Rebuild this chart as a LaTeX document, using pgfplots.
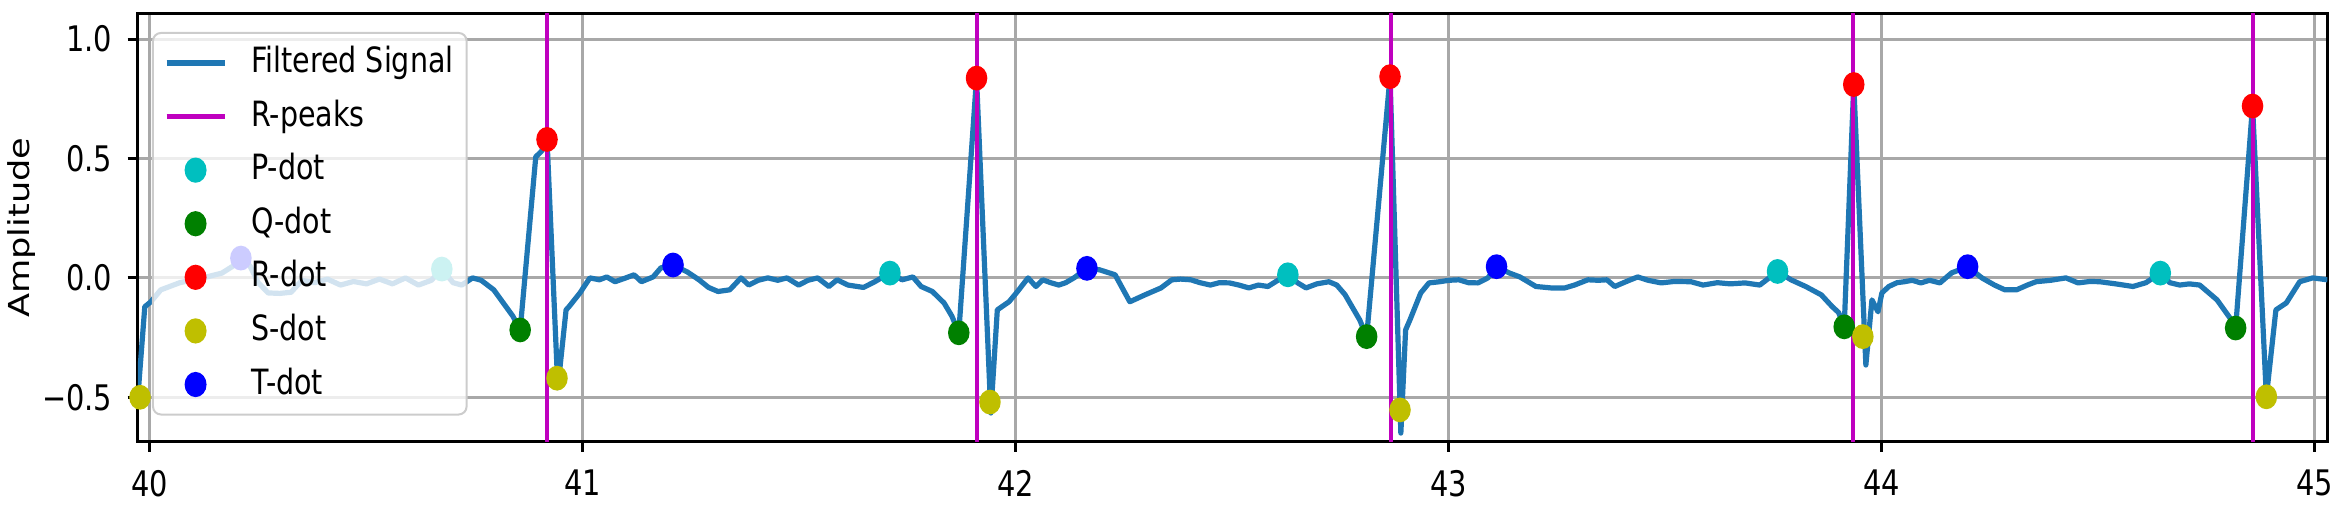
\documentclass[border=0pt]{standalone}
\usepackage{fontspec}
\setmainfont{DejaVu Sans}[FakeStretch=0.82]
\newfontfamily\plainfont{DejaVu Sans}
\usepackage{graphicx}
\usepackage{pgfplots}
\pgfplotsset{compat=1.18}
\definecolor{sig}{HTML}{1F77B4}
\definecolor{mpm}{HTML}{BF00BF}
\definecolor{mpc}{HTML}{00BFBF}
\definecolor{mpg}{HTML}{008000}
\definecolor{mpr}{HTML}{FF0000}
\definecolor{mpy}{HTML}{BFBF00}
\definecolor{mpb}{HTML}{0000FF}
\definecolor{gridc}{HTML}{A8A8A8}

\pgfplotstableread{
x y
39.972 -0.50
39.988 -0.121
40.002 -0.10
40.025 -0.05
40.069 -0.02
40.122 0.0
40.166 0.02
40.201 0.06
40.210 0.083
40.231 0.05
40.250 -0.02
40.273 -0.063
40.300 -0.065
40.326 -0.06
40.351 -0.01
40.380 -0.02
40.410 -0.005
40.440 -0.03
40.470 -0.015
40.500 -0.025
40.530 -0.005
40.560 -0.025
40.590 0.0
40.620 -0.03
40.650 -0.01
40.674 0.037
40.700 -0.02
40.720 -0.03
40.745 0.0
40.765 -0.01
40.794 -0.05
40.838 -0.16
40.855 -0.218
40.891 0.507
40.904 0.53
40.917 0.58
40.942 -0.46
40.961 -0.134
40.968 -0.12
40.993 -0.063
41.016 0.0
41.038 -0.008
41.055 0.004
41.074 -0.016
41.099 0.0
41.118 0.013
41.135 -0.016
41.162 0.004
41.180 0.042
41.208 0.054
41.241 0.025
41.268 -0.008
41.290 -0.04
41.312 -0.057
41.339 -0.05
41.365 0.0
41.383 -0.03
41.405 -0.01
41.427 0.0
41.450 -0.01
41.471 0.0
41.498 -0.03
41.520 -0.01
41.542 0.0
41.568 -0.036
41.587 -0.008
41.612 -0.03
41.648 -0.04
41.674 -0.016
41.709 0.02
41.737 -0.008
41.762 0.004
41.781 -0.036
41.807 -0.057
41.834 -0.105
41.852 -0.16
41.868 -0.23
41.909 0.837
41.942 -0.566
41.957 -0.134
41.968 -0.12
41.984 -0.10
42.001 -0.063
42.028 0.0
42.046 -0.036
42.062 -0.008
42.080 -0.02
42.099 -0.03
42.115 -0.02
42.134 0.0
42.164 0.04
42.193 0.034
42.229 0.013
42.263 -0.10
42.298 -0.071
42.335 -0.042
42.360 -0.008
42.380 -0.005
42.404 -0.008
42.425 -0.02
42.449 -0.03
42.470 -0.02
42.493 -0.021
42.515 -0.03
42.538 -0.042
42.560 -0.03
42.582 -0.036
42.605 -0.01
42.628 0.013
42.650 -0.02
42.670 -0.042
42.695 -0.025
42.723 -0.016
42.741 -0.03
42.760 -0.07
42.776 -0.12
42.794 -0.176
42.810 -0.246
42.864 0.843
42.889 -0.65
42.900 -0.218
42.910 -0.176
42.935 -0.063
42.954 -0.021
42.979 -0.016
43.000 -0.01
43.023 -0.008
43.045 -0.02
43.067 -0.021
43.090 0.0
43.110 0.047
43.139 0.021
43.164 0.004
43.201 -0.036
43.236 -0.042
43.268 -0.042
43.290 -0.03
43.321 -0.008
43.345 -0.01
43.365 -0.008
43.383 -0.036
43.410 -0.015
43.436 0.004
43.460 -0.01
43.490 -0.021
43.520 -0.015
43.559 -0.016
43.587 -0.03
43.620 -0.02
43.650 -0.025
43.684 -0.021
43.718 -0.03
43.759 0.027
43.790 -0.008
43.824 -0.036
43.860 -0.071
43.885 -0.12
43.900 -0.145
43.913 -0.205
43.935 0.81
43.963 -0.365
43.977 -0.092
43.991 -0.142
44.000 -0.063
44.016 -0.036
44.035 -0.02
44.052 -0.016
44.070 -0.01
44.090 -0.021
44.110 -0.01
44.134 -0.021
44.161 0.021
44.198 0.047
44.231 0.0
44.260 -0.03
44.284 -0.05
44.311 -0.05
44.336 -0.03
44.356 -0.016
44.390 -0.01
44.425 0.0
44.453 -0.021
44.480 -0.015
44.503 -0.016
44.540 -0.025
44.580 -0.036
44.610 -0.02
44.643 0.02
44.665 -0.02
44.688 -0.03
44.710 -0.025
44.734 -0.03
44.774 -0.092
44.804 -0.168
44.817 -0.21
44.856 0.72
44.888 -0.498
44.910 -0.134
44.934 -0.105
44.965 -0.016
44.995 0.0
45.029 -0.008
}\signal

\pgfplotstableread{
x y
40.674 0.037
41.709 0.02
42.628 0.013
43.759 0.027
44.643 0.02
}\Pdots
\pgfplotstableread{
x y
40.855 -0.218
41.868 -0.23
42.810 -0.246
43.913 -0.205
44.817 -0.21
}\Qdots
\pgfplotstableread{
x y
40.917 0.58
41.909 0.837
42.864 0.843
43.935 0.81
44.856 0.72
}\Rdots
\pgfplotstableread{
x y
39.977 -0.50
40.940 -0.42
41.940 -0.52
42.887 -0.553
43.956 -0.246
44.888 -0.498
}\Sdots
\pgfplotstableread{
x y
40.210 0.083
41.208 0.054
42.164 0.04
43.110 0.047
44.198 0.047
}\Tdots

\begin{document}
\begin{tikzpicture}
\begin{axis}[
  scale only axis, width=547.4pt, height=106.9pt,
  xmin=39.9723, xmax=45.029, ymin=-0.6855, ymax=1.1055,
  axis line style={line width=0.75pt},
  xtick={40,41,42,43,44,45}, xticklabels={40,41,42,43,44,45},
  ytick={-0.5,0,0.5,1}, yticklabels={−0.5,0.0,0.5,1.0},
  tick align=outside, xtick pos=bottom, ytick pos=left,
  major tick length=2.6pt,
  every tick/.style={black, line width=0.75pt},
  grid=major, major grid style={gridc, line width=0.75pt},
  ticklabel style={font=\fontsize{8.8}{10.5}\selectfont},
  xticklabel style={yshift=-1.0pt},
  yticklabel style={xshift=-0.3pt},
  ylabel={\plainfont\fontsize{8.8}{10}\selectfont\scalebox{1}[0.82]{Amplitude}},
  ylabel style={at={(axis description cs:-0.0532,0.5)}, anchor=center},
  legend cell align=left,
  legend image code/.code={\draw[mark repeat=2,mark phase=2,#1] plot coordinates {(0pt,0pt) (7.25pt,0pt) (14.5pt,0pt)};},
  legend style={at={(axis description cs:0.0064,0.958)}, anchor=north west,
    draw=black!20, line width=0.5pt, fill=white, fill opacity=0.8, text opacity=1,
    rounded corners=2pt, font=\fontsize{8.7}{10}\selectfont,
    inner xsep=2.75pt, inner ysep=3pt, row sep=4.4pt,
    nodes={inner sep=0.5pt, text height=6.4pt, text depth=1.6pt},
    /tikz/every odd column/.append style={column sep=5.5pt}},
  mpdot/.style={only marks, mark=*, mark size=2.9pt, mark options={xscale=0.86}},
]
\addplot[forget plot, mpdot, color=mpc] table {\Pdots};
\addplot[forget plot, mpdot, color=mpg] table {\Qdots};
\addplot[forget plot, mpdot, color=mpr] table {\Rdots};
\addplot[forget plot, mpdot, color=mpy] table {\Sdots};
\addplot[forget plot, mpdot, color=mpb] table {\Tdots};
\addplot[forget plot, sig, line width=1.3pt, line join=round] table {\signal};
\addplot[forget plot, mpm, line width=0.9pt] coordinates {(40.917,-1) (40.917,2)};
\addplot[forget plot, mpm, line width=0.9pt] coordinates {(41.910,-1) (41.910,2)};
\addplot[forget plot, mpm, line width=0.9pt] coordinates {(42.866,-1) (42.866,2)};
\addplot[forget plot, mpm, line width=0.9pt] coordinates {(43.933,-1) (43.933,2)};
\addplot[forget plot, mpm, line width=0.9pt] coordinates {(44.857,-1) (44.857,2)};
\addlegendimage{sig, line width=1.3pt}
\addlegendentry{Filtered Signal}
\addlegendimage{mpm, line width=1.3pt}
\addlegendentry{R-peaks}
\addlegendimage{mpdot, color=mpc, fill opacity=1}
\addlegendentry{P-dot}
\addlegendimage{mpdot, color=mpg, fill opacity=1}
\addlegendentry{Q-dot}
\addlegendimage{mpdot, color=mpr, fill opacity=1}
\addlegendentry{R-dot}
\addlegendimage{mpdot, color=mpy, fill opacity=1}
\addlegendentry{S-dot}
\addlegendimage{mpdot, color=mpb, fill opacity=1}
\addlegendentry{T-dot}
\end{axis}
\pgfresetboundingbox
\path[use as bounding box] ([shift={(-34.5pt,-16.8pt)}]current axis.south west) rectangle ([shift={(3.4pt,3.5pt)}]current axis.north east);
\end{tikzpicture}
\end{document}
